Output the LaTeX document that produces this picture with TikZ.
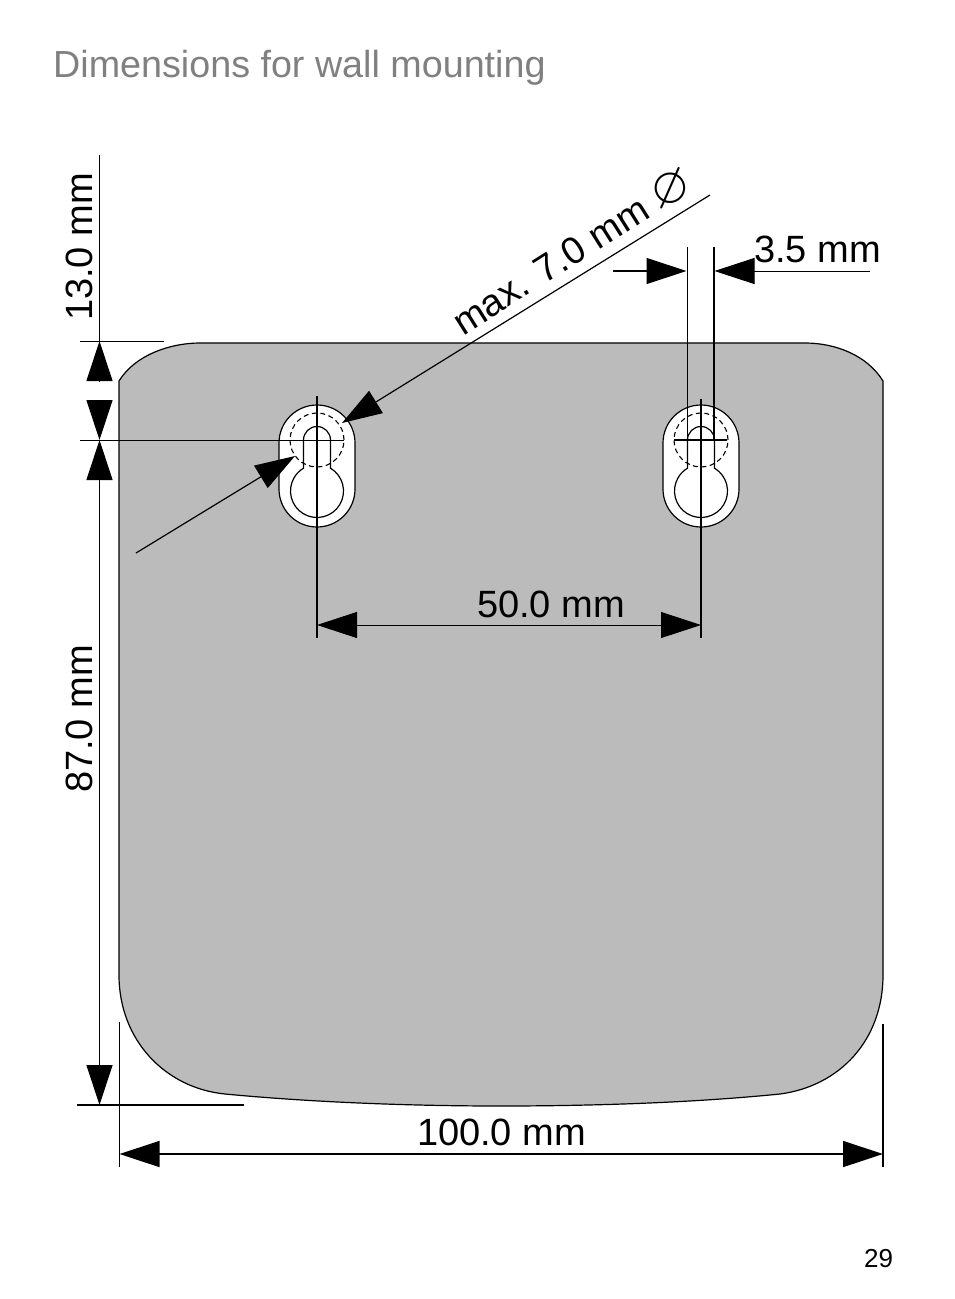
\documentclass[tikz,border=0pt]{standalone}
\usepackage{fontspec}
\usepackage{amssymb}
\setmainfont{Liberation Sans}
\usetikzlibrary{arrows.meta}
\definecolor{PlateGray}{HTML}{BBBBBB}
\definecolor{TitleGray}{HTML}{808080}
\tikzset{
  dim/.style={line width=1.2pt,-{Triangle[length=40pt,width=26pt]}},
  dimboth/.style={line width=1pt,{Triangle[length=40pt,width=26pt]}-{Triangle[length=40pt,width=26pt]}},
  dimlabel/.style={inner sep=0pt,font=\fontsize{38}{38}\selectfont},
  keyhole/.pic={
    \draw[fill=white,line width=1.2pt] (-38,-3) arc (180:0:38) -- (38,-49) arc (0:-180:38) -- cycle;
    \draw[line width=1.2pt] (-13.5,0) arc (180:0:13.5) -- (13.5,-28.2)
      arc (59.4:-239.4:26.5) -- cycle;
    \draw[line width=1.1pt,dash pattern=on 5pt off 3.5pt] (0,0) circle (27);
  }
}
\begin{document}
\begin{tikzpicture}[x=1pt,y=1pt]
  \useasboundingbox (0,0) rectangle (954,-1299);
  \node[anchor=base west,inner sep=0pt,text=TitleGray,font=\fontsize{37.7}{38}\selectfont] (title) at (53,-77) {Dimensions for wall mounting};
  \node[anchor=base,inner sep=0pt,font=\fontsize{26}{26}\selectfont] (page) at (878.5,-1267) {29};
  % plate
  \draw[fill=PlateGray,line width=1.2pt] (119,-381) .. controls (135,-355) and (170,-343) .. (200,-343)
    -- (805,-343) .. controls (835,-343) and (867,-355) .. (883,-381)
    -- (883,-975) .. controls (883,-1040) and (840,-1086) .. (780,-1094)
    .. controls (690,-1103) and (590,-1106) .. (500,-1106)
    .. controls (420,-1106) and (320,-1103) .. (225,-1094)
    .. controls (165,-1088) and (119,-1040) .. (119,-975) -- cycle;
  \pic at (317,-440) {keyhole};
  \pic at (701,-440) {keyhole};
  % extension lines
  \coordinate (topA) at (99.5,-155);
  \coordinate (topB) at (99.5,-341);
  \coordinate (midB) at (99.5,-440);
  \coordinate (botB) at (99.5,-1105);
  \draw (topA) -- (topB);
  \draw (80,-341) -- (164,-341);
  \draw (80,-440) -- (344,-440);
  \draw[line width=1.5pt] (77,-1105) -- (244,-1105);
  \draw (119.5,-1022) -- (119.5,-1167);
  \draw[line width=1.5pt] (883,-1024) -- (883,-1167);
  \draw[line width=1.5pt] (317,-396) -- (317,-638);
  \draw[line width=1.5pt] (701,-399) -- (701,-638);
  \draw (687,-247) -- (687,-440);
  \draw[line width=1.5pt] (714,-247) -- (714,-440);
  \draw[line width=1.5pt] (674,-440) -- (727,-440);
  % vertical dimensions
  \coordinate (upA) at (99.5,-381);
  \coordinate (upB) at (99.5,-401);
  \coordinate (upC) at (99.5,-479);
  \draw[dim] (upA) -- (topB);
  \draw[dim] (upB) -- (midB);
  \draw[dim] (upC) -- (midB);
  \draw[dim] (upC) -- (botB);
  \node[dimlabel,rotate=90] (lblTop) at (79,-247) {13.0 mm};
  \node[dimlabel,rotate=90] (lblLeft) at (79,-719) {87.0 mm};
  % horizontal dimensions
  \coordinate (widthA) at (119.5,-1154);
  \coordinate (widthB) at (883,-1154);
  \coordinate (holeA) at (317,-625);
  \coordinate (holeB) at (701,-625);
  \draw[dimboth,line width=1.5pt] (widthA) -- (widthB);
  \draw[dimboth,line width=0.8pt] (holeA) -- (holeB);
  \node[dimlabel] (lblWidth) at (501.5,-1132) {100.0 mm};
  \node[dimlabel] (lblHole) at (551,-604) {50.0 mm};
  % slot width
  \coordinate (slotA) at (613,-271);
  \coordinate (slotB) at (686.5,-271);
  \coordinate (slotC) at (870,-271);
  \coordinate (slotD) at (714.5,-271);
  \draw[dim] (slotA) -- (slotB);
  \draw[dim,line width=0.8pt] (slotC) -- (slotD);
  \node[dimlabel] (lblSlot) at (817.5,-249) {3.5 mm};
  % head diameter
  \coordinate (headA) at (710,-195);
  \coordinate (headB) at (342,-423);
  \coordinate (headC) at (136,-553);
  \coordinate (headD) at (295,-456);
  \draw[dim] (headA) -- (headB);
  \draw[dim] (headC) -- (headD);
  \node[dimlabel,rotate=32.3,anchor=base] (lblHead) at (557.5,-276.5) {max. 7.0 mm};
  \node[inner sep=0pt,scale=5.2,rotate=25] (lblDia) at (671,-190) {$\varnothing$};
\end{tikzpicture}
\end{document}
